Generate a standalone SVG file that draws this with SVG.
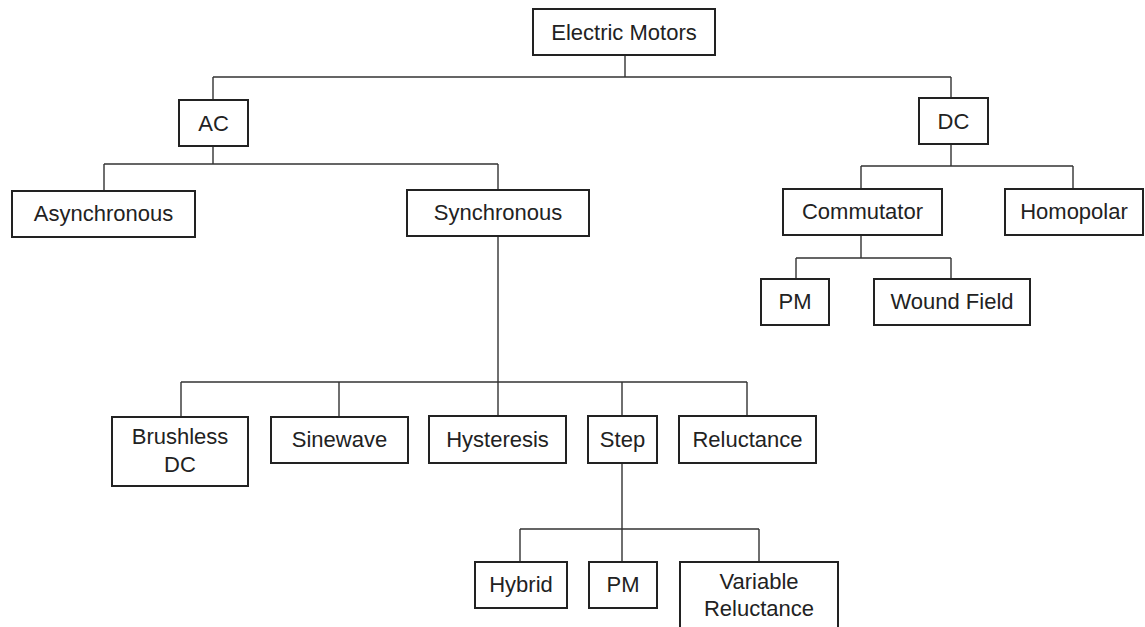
<svg xmlns="http://www.w3.org/2000/svg" width="1145" height="627" viewBox="0 0 1145 627">
<style>
.box{fill:#fff;stroke:#222;stroke-width:2}
.t{font-family:"Liberation Sans",Arial,sans-serif;font-size:22px;fill:#222;text-anchor:middle}
.c{fill:none;stroke:#333;stroke-width:1.4}
</style>
<rect width="1145" height="627" fill="#fff"/>
<g id="connectors" class="c">
<path d="M625,55V77M213,77H951M213,77V100M951,77V98"/>
<path d="M213,146V164M104,164H498M104,164V191M498,164V190"/>
<path d="M498,236V416M181,382H747M181,382V417M339,382V417M622,382V416M747,382V416"/>
<path d="M622,463V562M520,529H759M520,529V562M759,529V562"/>
<path d="M951,144V166M861,166H1073M861,166V189M1073,166V189"/>
<path d="M861,235V258M796,258H951M796,258V279M951,258V279"/>
</g>
<g id="n-electric"><rect class="box" x="533" y="9" width="182" height="46"/><text class="t" x="624" y="40">Electric Motors</text></g>
<g id="n-ac"><rect class="box" x="179" y="100" width="69" height="46"/><text class="t" x="213.5" y="131">AC</text></g>
<g id="n-dc"><rect class="box" x="919" y="98" width="69" height="46"/><text class="t" x="953.5" y="129">DC</text></g>
<g id="n-async"><rect class="box" x="12" y="191" width="183" height="46"/><text class="t" x="103.5" y="221">Asynchronous</text></g>
<g id="n-sync"><rect class="box" x="407" y="190" width="182" height="46"/><text class="t" x="498" y="220">Synchronous</text></g>
<g id="n-comm"><rect class="box" x="783" y="189" width="159" height="46"/><text class="t" x="862.5" y="219">Commutator</text></g>
<g id="n-homo"><rect class="box" x="1005" y="189" width="138" height="46"/><text class="t" x="1074" y="219">Homopolar</text></g>
<g id="n-pm1"><rect class="box" x="761" y="279" width="68" height="46"/><text class="t" x="795" y="309">PM</text></g>
<g id="n-wound"><rect class="box" x="874" y="279" width="156" height="46"/><text class="t" x="952" y="309">Wound Field</text></g>
<g id="n-bldc"><rect class="box" x="112" y="417" width="136" height="69"/><text class="t" x="180" y="444">Brushless</text><text class="t" x="180" y="472">DC</text></g>
<g id="n-sine"><rect class="box" x="271" y="417" width="137" height="46"/><text class="t" x="339.5" y="447">Sinewave</text></g>
<g id="n-hyst"><rect class="box" x="429" y="416" width="137" height="47"/><text class="t" x="497.5" y="447">Hysteresis</text></g>
<g id="n-step"><rect class="box" x="588" y="416" width="69" height="47"/><text class="t" x="622.5" y="447">Step</text></g>
<g id="n-rel"><rect class="box" x="679" y="416" width="137" height="47"/><text class="t" x="747.5" y="447">Reluctance</text></g>
<g id="n-hybrid"><rect class="box" x="475" y="562" width="92" height="46"/><text class="t" x="521" y="592">Hybrid</text></g>
<g id="n-pm2"><rect class="box" x="589" y="562" width="68" height="46"/><text class="t" x="623" y="592">PM</text></g>
<g id="n-varrel"><rect class="box" x="680" y="562" width="158" height="75"/><text class="t" x="759" y="589">Variable</text><text class="t" x="759" y="616">Reluctance</text></g>
</svg>
